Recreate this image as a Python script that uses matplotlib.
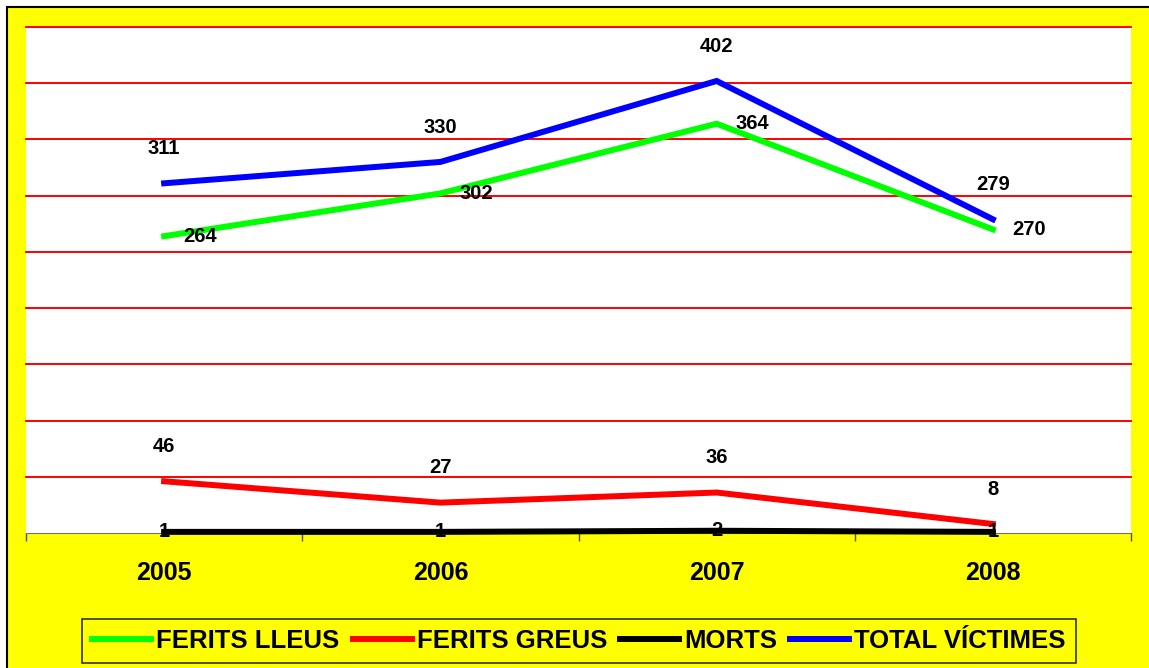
import matplotlib
matplotlib.use("Agg")
import matplotlib.pyplot as plt
from matplotlib.patches import Rectangle

plt.rcParams['font.family'] = ['Liberation Sans', 'DejaVu Sans']
plt.rcParams['font.weight'] = 'bold'

# ---------------- DATA ---------------- #
years = ["2005", "2006", "2007", "2008"]
ferits_lleus = [264, 302, 364, 270]
ferits_greus = [46, 27, 36, 8]
morts = [1, 1, 2, 1]
total_victimes = [311, 330, 402, 279]

series_names = ["FERITS LLEUS", "FERITS GREUS", "MORTS", "TOTAL VÍCTIMES"]
series_values = [ferits_lleus, ferits_greus, morts, total_victimes]
series_colors = ["#00FF00", "#FF0000", "#000000", "#0000FF"]
# label offsets in points (dx, dy)
label_offsets = [(26, 0), (0, 25), (0, 0), (0, 25)]

W, H = 1149, 668
fig = plt.figure(figsize=(W / 100, H / 100), dpi=100)
fig.patch.set_facecolor("white")

# yellow chart area with border
fig.patches.append(Rectangle((7 / W, -0.02), 1.05, 1 - 7 / H + 0.02,
                             transform=fig.transFigure, facecolor="#FFFF00",
                             edgecolor="black", linewidth=1.5, zorder=-10))

ax = fig.add_axes([26 / W, 1 - 533 / H, (1131 - 26) / W, (533 - 27) / H])
ax.set_facecolor("white")

x = list(range(len(years)))
for name, vals, col, off in zip(series_names, series_values, series_colors, label_offsets):
    ax.plot(x, vals, color=col, linewidth=4.3, label=name, clip_on=False,
            solid_joinstyle="miter", zorder=3)
    for xi, v in zip(x, vals):
        ax.annotate(str(v), (xi, v), xytext=off, textcoords="offset points",
                    ha="center", va="center", fontsize=14.5, fontweight="bold",
                    zorder=5, annotation_clip=False)

ax.set_xlim(-0.5, len(years) - 0.5)
ax.set_ylim(0, 450)
ax.set_yticks(range(50, 451, 50))
ax.yaxis.grid(True, color="#FF0000", linewidth=1.4)
for gl in ax.get_ygridlines():
    gl.set_clip_on(False)
ax.set_axisbelow(True)
ax.tick_params(axis="y", left=False, labelleft=False)

ax.set_xticks(x)
ax.set_xticklabels(years, fontsize=18, fontweight="bold")
ax.set_xticks([i - 0.5 for i in range(len(years) + 1)], minor=True)
ax.tick_params(axis="x", which="major", length=0, pad=20)
ax.tick_params(axis="x", which="minor", length=6, width=1, color="#505050", direction="out")

for s in ["top", "right", "left"]:
    ax.spines[s].set_visible(False)
ax.spines["bottom"].set_color("#707070")

leg = fig.legend(loc="center", bbox_to_anchor=(579 / W, 1 - 641 / H), ncol=4,
                 frameon=True, fancybox=False, handlelength=2.3,
                 handletextpad=0.2, columnspacing=0.5, borderpad=0.4,
                 prop={"weight": "bold", "size": 18.5})
leg.get_frame().set_facecolor("#FFFF00")
leg.get_frame().set_edgecolor("black")
leg.get_frame().set_linewidth(1.2)

fig.savefig("out.png", dpi=100)
